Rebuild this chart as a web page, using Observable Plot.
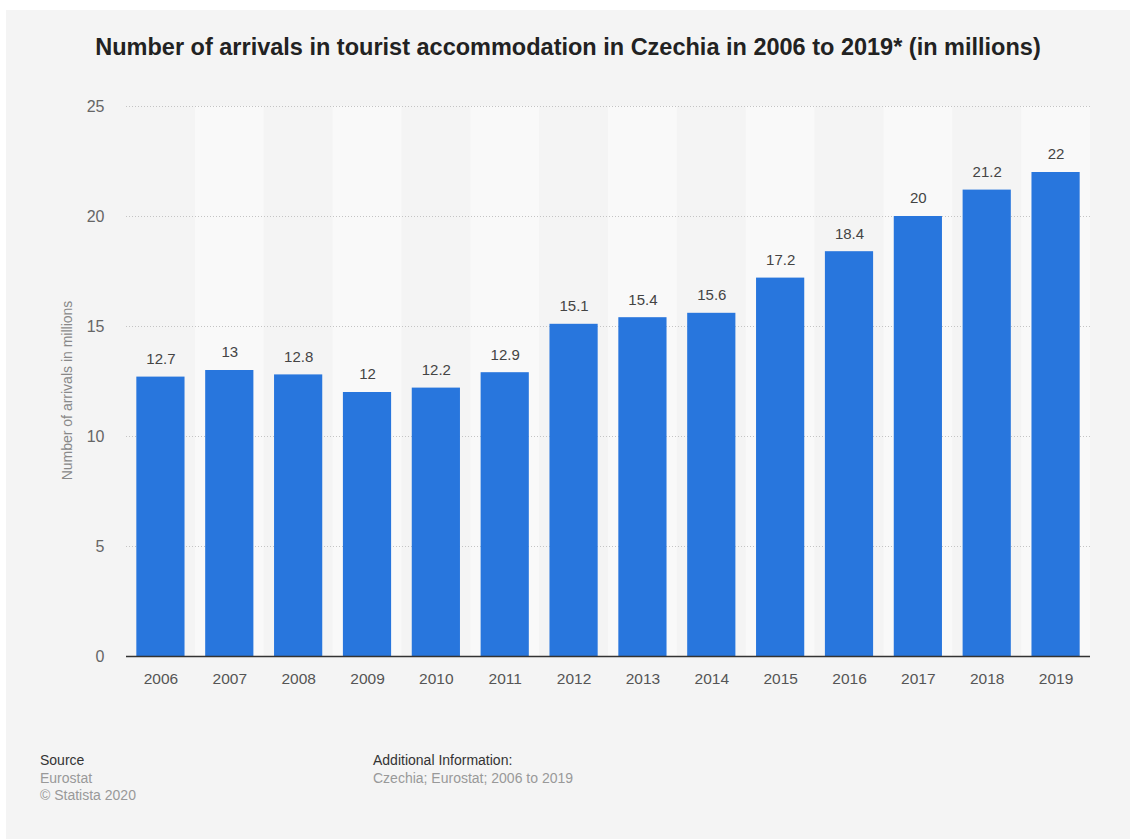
<!DOCTYPE html>
<html>
<head>
<meta charset="utf-8">
<script src="https://cdn.jsdelivr.net/npm/d3@7"></script>
<script src="https://cdn.jsdelivr.net/npm/@observablehq/plot@0.6"></script>
<style>
  html, body { margin: 0; padding: 0; background: #ffffff; }
  body { width: 1130px; height: 839px; position: relative; overflow: hidden;
         font-family: "Liberation Sans", Arial, Helvetica, sans-serif; }
  #panel { position: absolute; left: 6px; top: 10px; width: 1124px; height: 829px; background: #f4f4f4; }
  #title { position: absolute; left: 0; width: 1124px; top: 23px; text-align: center;
           font-size: 23.5px; line-height: 28px; font-weight: bold; color: #222; }
  #chart { position: absolute; left: 0; top: 70px; }
  .foot { position: absolute; top: 742px; font-size: 14px; line-height: 17.5px; }
  .foot .h { color: #333; }
  .foot .t { color: #999; }
</style>
</head>
<body>
<div id="panel">
  <div id="title">Number of arrivals in tourist accommodation in Czechia in 2006 to 2019* (in millions)</div>
  <div id="chart"></div>
  <div class="foot" style="left:34px;">
    <div class="h">Source</div>
    <div class="t">Eurostat</div>
    <div class="t">© Statista 2020</div>
  </div>
  <div class="foot" style="left:367px;">
    <div class="h">Additional Information:</div>
    <div class="t">Czechia; Eurostat; 2006 to 2019</div>
  </div>
</div>
<script>
const years = ["2006","2007","2008","2009","2010","2011","2012","2013","2014","2015","2016","2017","2018","2019"];
const arrivals = [12.7, 13, 12.8, 12, 12.2, 12.9, 15.1, 15.4, 15.6, 17.2, 18.4, 20, 21.2, 22];
const yTicks = [0, 5, 10, 15, 20, 25];
const yLabel = "Number of arrivals in millions";

const data = years.map((y, i) => ({year: y, value: arrivals[i]}));
const bands = years.filter((y, i) => i % 2 === 1);

const width = 1124, height = 640;
const marginLeft = 120, marginRight = 40, marginTop = 26, marginBottom = 64;
const step = (width - marginLeft - marginRight) / years.length;
const outer = 0.15 * step;

const chart = Plot.plot({
  width, height, marginLeft, marginRight, marginTop, marginBottom,
  style: {background: "transparent", fontFamily: '"Liberation Sans", Arial, sans-serif', fontSize: "14px", color: "#666"},
  x: {domain: years, paddingInner: 0.3, paddingOuter: 0.15, round: false, label: null},
  y: {domain: [0, 25], label: null},
  marks: [
    Plot.barY(bands, {x: d => d, y: 25, fill: "#f9f9f9", insetLeft: -outer, insetRight: -outer}),
    Plot.ruleY(yTicks.filter(t => t > 0), {stroke: "#c4c4c4", strokeDasharray: "1,2", strokeWidth: 1}),
    Plot.barY(data, {x: "year", y: "value", fill: "#2876dd", insetLeft: 0, insetRight: 0}),
    Plot.ruleY([0], {stroke: "#333", strokeWidth: 1.5}),
    Plot.axisY({ticks: yTicks, tickSize: 0, tickPadding: 22, label: null, fill: "#666", fontSize: 16}),
    Plot.axisX({tickSize: 0, tickPadding: 16, label: null, fill: "#555", fontSize: 15.5}),
    Plot.text(data, {x: "year", y: "value", text: d => String(d.value), dy: -18, fill: "#444", fontSize: 15}),
    Plot.text([yLabel], {frameAnchor: "left", textAnchor: "middle", text: d => d, rotate: -90, dx: -59, dy: 9, fill: "#888", fontSize: 14})
  ]
});
document.getElementById("chart").appendChild(chart);
</script>
</body>
</html>
